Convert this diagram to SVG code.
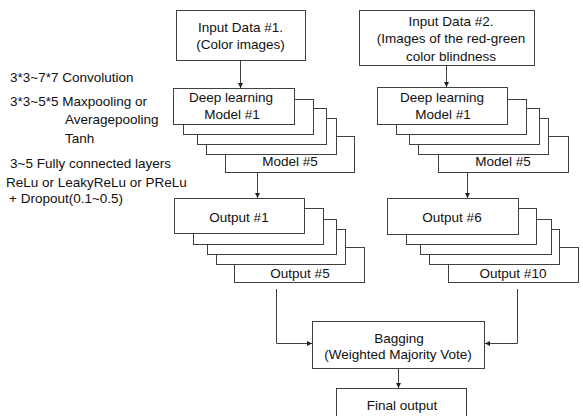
<svg xmlns="http://www.w3.org/2000/svg" width="583" height="416" viewBox="0 0 583 416">
<style>
  .box { fill: #ffffff; stroke: #404040; stroke-width: 1; }
  .t { font-family: "Liberation Sans", Arial, sans-serif; font-size: 13.5px; fill: #111111; }
  .c { text-anchor: middle; }
  .line { fill: none; stroke: #404040; stroke-width: 1; }
</style>
<defs>
  <marker id="arr" viewBox="0 0 6 6" refX="6" refY="3" markerWidth="5" markerHeight="5" orient="auto" markerUnits="userSpaceOnUse">
    <path d="M0,0 L6,3 L0,6 z" fill="#202020"/>
  </marker>
</defs>
<rect width="583" height="416" fill="#ffffff"/>

<g id="notes">
  <text class="t" x="10" y="82">3*3~7*7 Convolution</text>
  <text class="t" x="10" y="106">3*3~5*5 Maxpooling or</text>
  <text class="t" x="65" y="124">Averagepooling</text>
  <text class="t" x="65" y="143">Tanh</text>
  <text class="t" x="10" y="168">3~5 Fully connected layers</text>
  <text class="t" x="6" y="187">ReLu or LeakyReLu or PReLu</text>
  <text class="t" x="9" y="203">+ Dropout(0.1~0.5)</text>
</g>

<g id="input1">
  <rect class="box" x="176.5" y="10.5" width="129" height="50"/>
  <text class="t c" x="240.5" y="32">Input Data #1.</text>
  <text class="t c" x="240.5" y="49">(Color images)</text>
</g>

<g id="input2">
  <rect class="box" x="359.5" y="10.5" width="175" height="55"/>
  <text class="t c" x="451" y="26">Input Data #2.</text>
  <text class="t c" x="451" y="43">(Images of the red-green</text>
  <text class="t c" x="451" y="61">color blindness</text>
</g>

<g id="models1">
  <rect class="box" x="225.5" y="136.5" width="129" height="36"/>
  <rect class="box" x="206.5" y="118.5" width="130" height="36"/>
  <rect class="box" x="197.5" y="108.5" width="129" height="36"/>
  <rect class="box" x="183.5" y="99.5" width="130" height="35"/>
  <rect class="box" x="173.5" y="88.5" width="121" height="36"/>
  <text class="t c" x="231" y="102">Deep learning</text>
  <text class="t c" x="232" y="119">Model #1</text>
  <text class="t c" x="290" y="166">Model #5</text>
</g>

<g id="models2">
  <rect class="box" x="438.5" y="136.5" width="130" height="36"/>
  <rect class="box" x="418.5" y="118.5" width="130" height="36"/>
  <rect class="box" x="409.5" y="108.5" width="130" height="36"/>
  <rect class="box" x="396.5" y="99.5" width="130" height="35"/>
  <rect class="box" x="377.5" y="87.5" width="130" height="37"/>
  <text class="t c" x="442" y="102">Deep learning</text>
  <text class="t c" x="443" y="119">Model #1</text>
  <text class="t c" x="503" y="166">Model #5</text>
</g>

<g id="outputs1">
  <rect class="box" x="234.5" y="247.5" width="130" height="35"/>
  <rect class="box" x="216.5" y="229.5" width="129" height="35"/>
  <rect class="box" x="207.5" y="219.5" width="129" height="35"/>
  <rect class="box" x="193.5" y="208.5" width="130" height="36"/>
  <rect class="box" x="174.5" y="198.5" width="130" height="35"/>
  <text class="t c" x="239" y="222">Output #1</text>
  <text class="t c" x="300" y="278">Output #5</text>
</g>

<g id="outputs2">
  <rect class="box" x="448.5" y="247.5" width="130" height="35"/>
  <rect class="box" x="429.5" y="229.5" width="130" height="35"/>
  <rect class="box" x="420.5" y="219.5" width="131" height="35"/>
  <rect class="box" x="406.5" y="208.5" width="130" height="36"/>
  <rect class="box" x="387.5" y="198.5" width="131" height="36"/>
  <text class="t c" x="452" y="222">Output #6</text>
  <text class="t c" x="513" y="278">Output #10</text>
</g>

<g id="bagging">
  <rect class="box" x="312.5" y="321.5" width="172" height="47"/>
  <text class="t c" x="399" y="343">Bagging</text>
  <text class="t c" x="398" y="359">(Weighted Majority Vote)</text>
</g>

<g id="final">
  <rect class="box" x="336.5" y="388.5" width="130" height="40"/>
  <text class="t c" x="402" y="410">Final output</text>
</g>

<g id="connectors">
  <line class="line" x1="240.5" y1="61" x2="240.5" y2="88" marker-end="url(#arr)"/>
  <line class="line" x1="446.5" y1="66" x2="446.5" y2="87" marker-end="url(#arr)"/>
  <line class="line" x1="257.5" y1="173" x2="257.5" y2="198" marker-end="url(#arr)"/>
  <line class="line" x1="467.5" y1="173" x2="467.5" y2="198" marker-end="url(#arr)"/>
  <polyline class="line" points="276.5,289 276.5,343.5 312,343.5" marker-end="url(#arr)"/>
  <polyline class="line" points="517.5,289 517.5,343.5 485,343.5" marker-end="url(#arr)"/>
  <line class="line" x1="398.5" y1="369" x2="398.5" y2="388" marker-end="url(#arr)"/>
</g>
</svg>
